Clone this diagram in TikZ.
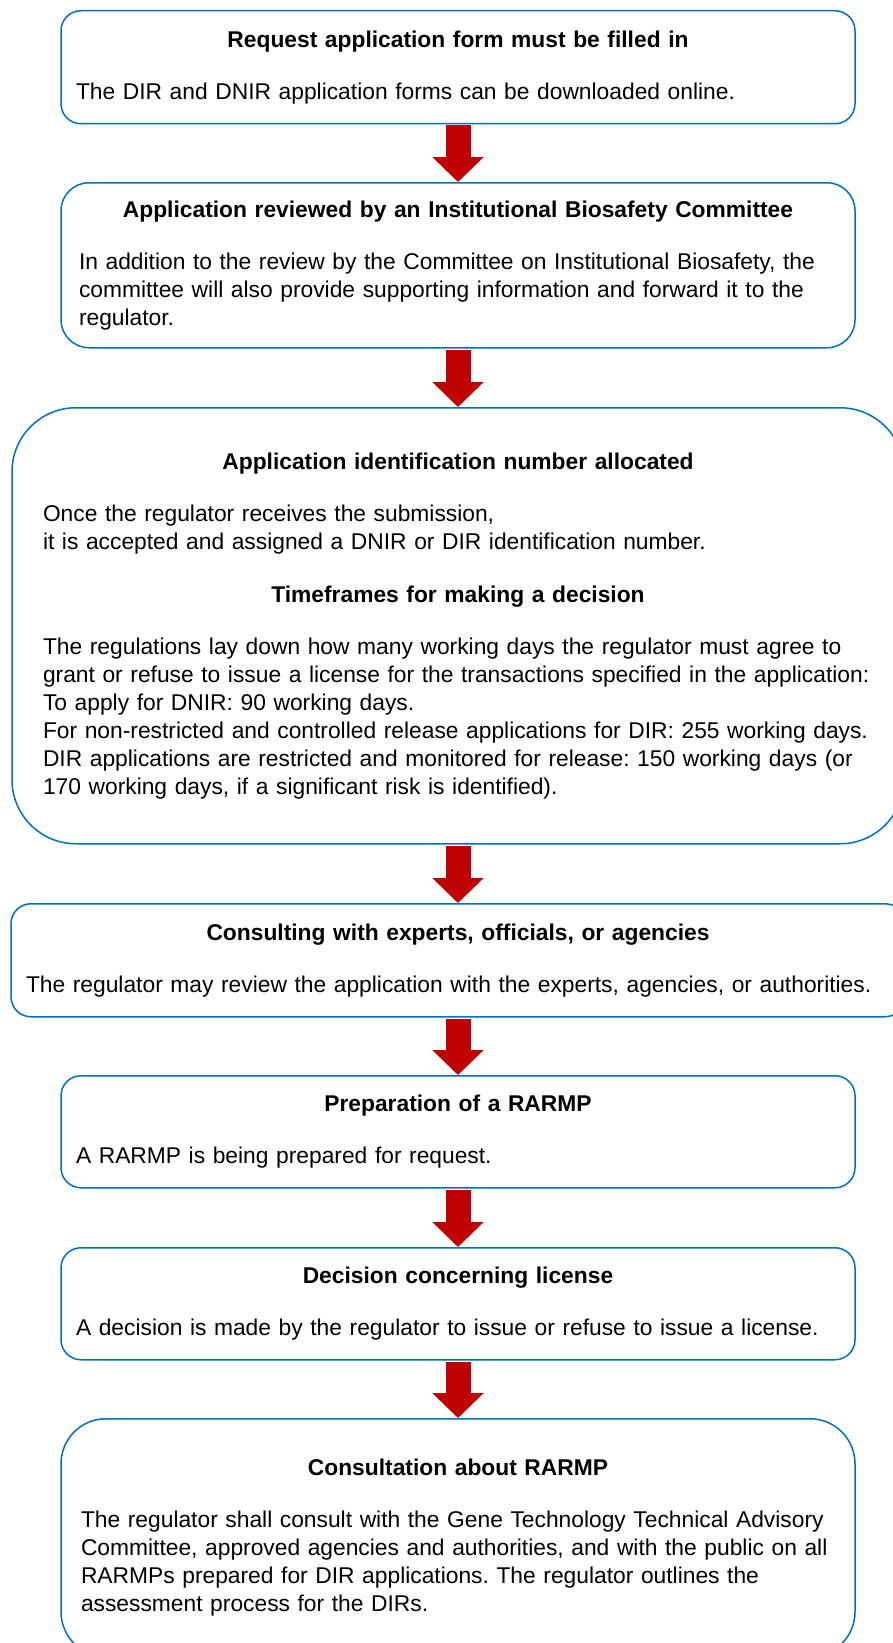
\documentclass[tikz,border=0pt]{standalone}
\usepackage{fontspec}
\setmainfont{Liberation Sans}
\usetikzlibrary{arrows.meta}
\definecolor{boxblue}{RGB}{0,112,192}
\definecolor{arrowred}{RGB}{192,0,0}
\tikzset{
	stepbox/.style={draw=boxblue, line width=1.5pt, anchor=north, align=left, inner ysep=0pt, font=\fontsize{22.8}{28}\selectfont\frenchspacing},
	downarrow/.style={draw=arrowred, line width=25pt, -{Triangle[width=50pt,length=25pt]}, shorten <=1pt}
}
\newcommand{\boxtitle}[1]{{\centering\bfseries #1\par}\vspace{24pt}}

\begin{document}
\begin{tikzpicture}[x=1pt, y=-1pt]
			%%%%% START %%%%%
			\useasboundingbox (0, 0) rectangle (893, 1643);
			
			\node[stepbox, rounded corners=20pt, inner xsep=15pt, text width=764pt, minimum height=113pt] (form) at (458, 10) {
				\boxtitle{Request application form must be filled in}
				The DIR and DNIR application forms can be downloaded online.};
			
			\node[stepbox, rounded corners=28pt, inner xsep=18pt, text width=758pt, minimum height=165pt] (review) at (458, 182) {
				\boxtitle{Application reviewed by an Institutional Biosafety Committee}
				In addition to the review by the Committee on Institutional Biosafety, the\\
				committee will also provide supporting information and forward it to the\\
				regulator.};
			
			\node[stepbox, rounded corners=64pt, inner xsep=31pt, text width=830pt, minimum height=436pt] (number) at (458, 407) {
				\boxtitle{Application identification number allocated}
				Once the regulator receives the submission,\\
				it is accepted and assigned a DNIR or DIR identification number.\par\vspace{25pt}
				\boxtitle{Timeframes for making a decision}
				\mbox{The regulations lay down how many working days the regulator must agree to}\\
				\mbox{grant or refuse to issue a license for the transactions specified in the application:}\\
				To apply for DNIR: 90 working days.\\
				\mbox{For non-restricted and controlled release applications for DIR: 255 working days.}\\
				\mbox{DIR applications are restricted and monitored for release: 150 working days (or}\\
				170 working days, if a significant risk is identified).};
			
			\node[stepbox, rounded corners=20pt, inner xsep=15pt, text width=864pt, minimum height=113pt] (consult) at (458, 903) {
				\boxtitle{Consulting with experts, officials, or agencies}
				The regulator may review the application with the experts, agencies, or authorities.};
			
			\node[stepbox, rounded corners=20pt, inner xsep=15pt, text width=764pt, minimum height=112pt] (rarmp) at (458, 1075) {
				\boxtitle{Preparation of a RARMP}
				A RARMP is being prepared for request.};
			
			\node[stepbox, rounded corners=20pt, inner xsep=15pt, text width=764pt, minimum height=112pt] (decision) at (458, 1247) {
				\boxtitle{Decision concerning license}
				A decision is made by the regulator to issue or refuse to issue a license.};
			
			\node[stepbox, rounded corners=45pt, inner xsep=20pt, text width=754pt, minimum height=238pt] (public) at (458, 1418) {
				\boxtitle{Consultation about RARMP}
				The regulator shall consult with the Gene Technology Technical Advisory\\
				Committee, approved agencies and authorities, and with the public on all\\
				RARMPs prepared for DIR applications. The regulator outlines the\\
				assessment process for the DIRs.};
			
			\draw[downarrow] (form.south) -- (review.north);
			\draw[downarrow] (review.south) -- (number.north);
			\draw[downarrow] (number.south) -- (consult.north);
			\draw[downarrow] (consult.south) -- (rarmp.north);
			\draw[downarrow] (rarmp.south) -- (decision.north);
			\draw[downarrow] (decision.south) -- (public.north);
			
			%%%%% END %%%%%
\end{tikzpicture}
\end{document}
